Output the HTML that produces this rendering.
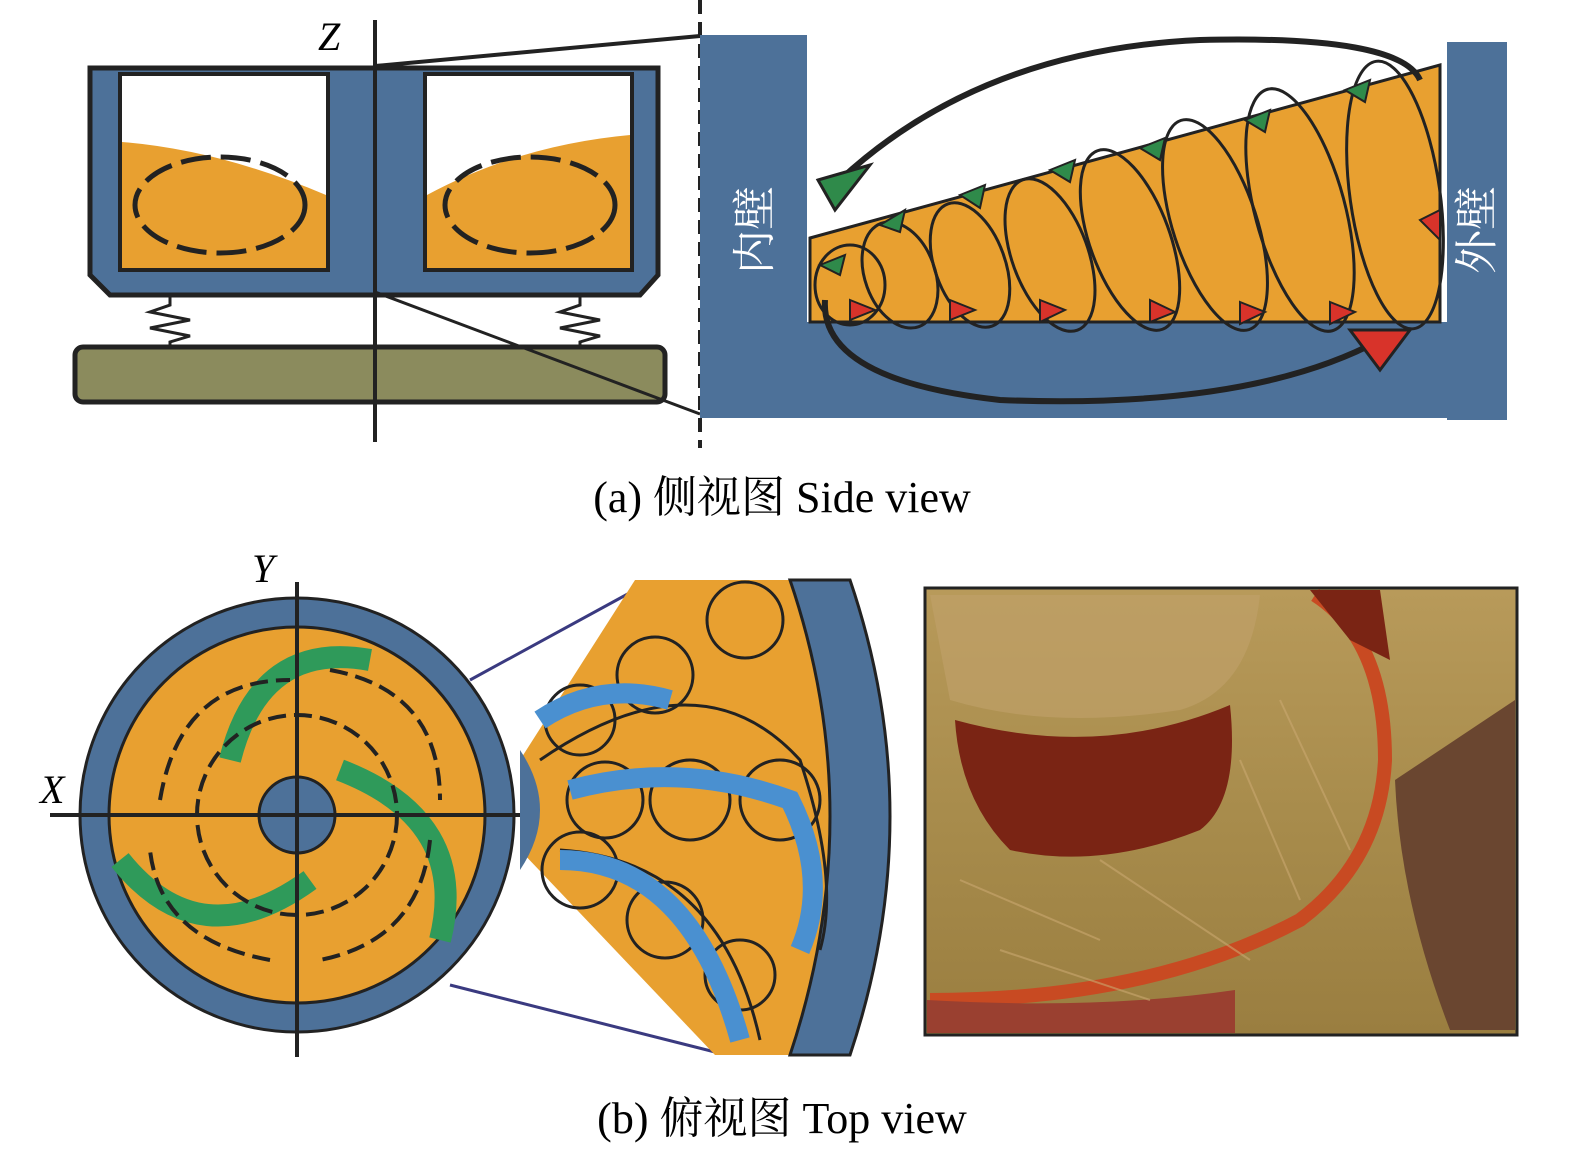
<!DOCTYPE html>
<html><head><meta charset="utf-8"><style>
html,body{margin:0;padding:0;background:#fff}
svg{display:block}
text{font-family:"Liberation Serif","Noto Serif CJK SC",serif}
</style></head><body>
<svg width="1575" height="1155" viewBox="0 0 1575 1155" xmlns="http://www.w3.org/2000/svg">
<defs>
<linearGradient id="ph" x1="0" y1="0" x2="0" y2="1">
<stop offset="0" stop-color="#b89a5a"/><stop offset="0.5" stop-color="#a88c4c"/><stop offset="1" stop-color="#9a7e40"/>
</linearGradient>
</defs>

<!-- TOP LEFT container -->
<polygon points="90,68 658,68 658,275 640,295 110,295 90,275" fill="#4d7199" stroke="#222" stroke-width="5"/>
<rect x="120" y="74" width="208" height="196" fill="#fff" stroke="#222" stroke-width="4"/>
<rect x="425" y="74" width="207" height="196" fill="#fff" stroke="#222" stroke-width="4"/>
<path d="M122,142 Q220,150 326,195 L326,268 L122,268 Z" fill="#e8a030"/>
<path d="M427,195 Q520,145 630,135 L630,268 L427,268 Z" fill="#e8a030"/>
<ellipse cx="220" cy="205" rx="85" ry="48" fill="none" stroke="#222" stroke-width="5" stroke-dasharray="30,10"/>
<ellipse cx="530" cy="205" rx="85" ry="48" fill="none" stroke="#222" stroke-width="5" stroke-dasharray="30,10"/>
<polyline points="170,295 170,305 150,312 190,320 150,328 190,336 170,342 170,348" fill="none" stroke="#222" stroke-width="3"/>
<polyline points="580,295 580,305 560,312 600,320 560,328 600,336 580,342 580,348" fill="none" stroke="#222" stroke-width="3"/>
<rect x="75" y="347" width="590" height="55" rx="8" fill="#8b8b5d" stroke="#222" stroke-width="5"/>
<line x1="375" y1="20" x2="375" y2="442" stroke="#222" stroke-width="4"/>
<text x="318" y="50" font-size="40" font-style="italic">Z</text>
<line x1="375" y1="66" x2="700" y2="36" stroke="#222" stroke-width="4"/>
<line x1="375" y1="292" x2="700" y2="414" stroke="#222" stroke-width="3"/>
<line x1="700" y1="0" x2="700" y2="448" stroke="#222" stroke-width="4" stroke-dasharray="14,8"/>

<!-- TOP RIGHT -->
<rect x="700" y="35" width="107" height="383" fill="#4d7199"/>
<rect x="807" y="322" width="642" height="96" fill="#4d7199"/>
<rect x="1447" y="42" width="60" height="378" fill="#4d7199"/>
<polygon points="810,238 1440,65 1440,322 810,322" fill="#e8a030" stroke="#222" stroke-width="3"/>
<g fill="none" stroke="#222" stroke-width="3">
<ellipse cx="850" cy="285" rx="35" ry="40"/>
<ellipse cx="900" cy="275" rx="35" ry="55" transform="rotate(-20 900 275)"/>
<ellipse cx="970" cy="265" rx="35" ry="65" transform="rotate(-20 970 265)"/>
<ellipse cx="1050" cy="255" rx="38" ry="80" transform="rotate(-20 1050 255)"/>
<ellipse cx="1130" cy="240" rx="40" ry="95" transform="rotate(-20 1130 240)"/>
<ellipse cx="1215" cy="225" rx="42" ry="110" transform="rotate(-18 1215 225)"/>
<ellipse cx="1300" cy="210" rx="45" ry="125" transform="rotate(-15 1300 210)"/>
<ellipse cx="1395" cy="195" rx="45" ry="135" transform="rotate(-8 1395 195)"/>
</g>
<path d="M1420,80 Q1400,35 1200,40 Q980,50 840,180" fill="none" stroke="#222" stroke-width="6"/>
<polygon points="818,180 870,165 835,210" fill="#2f8a4a" stroke="#222" stroke-width="3"/>
<path d="M825,300 Q820,380 1000,400 Q1250,410 1380,340" fill="none" stroke="#222" stroke-width="6"/>
<polygon points="1410,330 1350,330 1380,370" fill="#d8332a" stroke="#222" stroke-width="3"/>
<g fill="#2f8a4a" stroke="#222" stroke-width="2">
<polygon points="880,225 905,210 900,232"/><polygon points="960,195 985,185 980,208"/><polygon points="1050,170 1075,160 1070,182"/>
<polygon points="1140,148 1165,138 1160,160"/><polygon points="1245,120 1270,110 1265,132"/><polygon points="1345,90 1370,80 1365,102"/>
<polygon points="820,265 845,255 840,275"/>
</g>
<g fill="#d8332a" stroke="#222" stroke-width="2">
<polygon points="850,300 875,310 850,320"/><polygon points="950,300 975,310 950,320"/><polygon points="1040,300 1065,310 1040,322"/>
<polygon points="1150,300 1175,312 1150,322"/><polygon points="1240,302 1265,312 1240,324"/><polygon points="1330,302 1355,312 1330,324"/>
<polygon points="1420,220 1440,210 1440,240"/>
</g>
<text x="0" y="0" font-size="44" fill="#fff" text-anchor="middle" dominant-baseline="central" transform="translate(755 230) rotate(-90)">内壁</text>
<text x="0" y="0" font-size="44" fill="#fff" text-anchor="middle" dominant-baseline="central" transform="translate(1477 230) rotate(-90)">外壁</text>

<text x="782" y="512" font-size="44" text-anchor="middle">(a) 侧视图 Side view</text>

<!-- BOTTOM LEFT circle -->
<circle cx="297" cy="815" r="217" fill="#4d7199" stroke="#222" stroke-width="3"/>
<circle cx="297" cy="815" r="188" fill="#e8a030" stroke="#222" stroke-width="3"/>
<g fill="none" stroke="#2f9a5a" stroke-width="22">
<path d="M370,660 Q260,640 230,760"/>
<path d="M440,940 Q470,820 340,770"/>
<path d="M120,860 Q200,960 310,880"/>
</g>
<g fill="none" stroke="#222" stroke-width="4" stroke-dasharray="18,8">
<path d="M160,800 Q180,680 290,680"/><path d="M330,670 Q440,690 440,800"/>
<path d="M430,840 Q420,940 320,960"/><path d="M270,960 Q160,940 150,850"/>
<circle cx="297" cy="815" r="100"/>
</g>
<circle cx="297" cy="815" r="38" fill="#4d7199" stroke="#222" stroke-width="3"/>
<line x1="50" y1="815" x2="520" y2="815" stroke="#222" stroke-width="4"/>
<line x1="297" y1="582" x2="297" y2="1057" stroke="#222" stroke-width="4"/>
<text x="40" y="803" font-size="40" font-style="italic">X</text>
<text x="252" y="582" font-size="40" font-style="italic">Y</text>
<line x1="470" y1="680" x2="635" y2="590" stroke="#3a3a80" stroke-width="3"/>
<line x1="450" y1="985" x2="715" y2="1052" stroke="#3a3a80" stroke-width="3"/>

<!-- zoom region -->
<path d="M520,760 L635,580 L850,580 Q930,815 850,1055 L715,1055 L520,850 Z" fill="#e8a030"/>
<path d="M790,580 L850,580 Q930,815 850,1055 L790,1055 Q870,815 790,580 Z" fill="#4d7199" stroke="#222" stroke-width="3"/>
<path d="M520,750 Q560,810 520,870 Z" fill="#4d7199"/>
<g fill="none" stroke="#222" stroke-width="3">
<circle cx="745" cy="620" r="38"/><circle cx="655" cy="675" r="38"/><circle cx="580" cy="720" r="35"/>
<circle cx="605" cy="800" r="38"/><circle cx="690" cy="800" r="40"/><circle cx="780" cy="800" r="40"/>
<circle cx="580" cy="870" r="38"/><circle cx="665" cy="920" r="38"/><circle cx="740" cy="975" r="35"/>
<path d="M540,760 Q700,650 800,760 Q840,880 820,950"/>
<path d="M560,850 Q720,860 760,1040"/>
</g>
<g fill="none" stroke="#4a90d0" stroke-width="20">
<path d="M540,720 Q600,680 670,700"/><path d="M570,790 Q680,760 790,800 Q830,880 800,950"/>
<path d="M560,860 Q690,860 740,1040"/>
</g>

<!-- photo -->
<rect x="925" y="588" width="592" height="447" fill="url(#ph)" stroke="#222" stroke-width="3"/>
<path d="M930,595 L1260,595 Q1250,690 1180,710 Q1050,730 950,700 Z" fill="#bfa068" opacity="0.7"/>
<path d="M955,720 Q1100,760 1230,705 Q1240,800 1200,830 Q1100,870 1010,850 Q960,800 955,720 Z" fill="#7a2414"/>
<path d="M1395,780 L1515,700 L1515,1030 L1450,1030 Q1400,900 1395,780 Z" fill="#6a4630"/>
<path d="M1315,595 Q1385,640 1385,760 Q1380,860 1300,920 Q1150,1000 930,1000" fill="none" stroke="#c84a22" stroke-width="14"/>
<path d="M1310,590 L1380,590 L1390,660 L1350,640 Z" fill="#7a2414"/>
<path d="M927,1000 Q1100,1010 1235,990 L1235,1033 L927,1033 Z" fill="#9a4030"/>
<g stroke="#caa870" stroke-width="2" opacity="0.6">
<line x1="960" y1="880" x2="1100" y2="940"/><line x1="1100" y1="860" x2="1250" y2="960"/><line x1="1280" y1="700" x2="1350" y2="850"/>
<line x1="1000" y1="950" x2="1150" y2="1000"/><line x1="1240" y1="760" x2="1300" y2="900"/>
</g>

<text x="782" y="1133" font-size="44" text-anchor="middle">(b) 俯视图 Top view</text>
</svg>
</body></html>
